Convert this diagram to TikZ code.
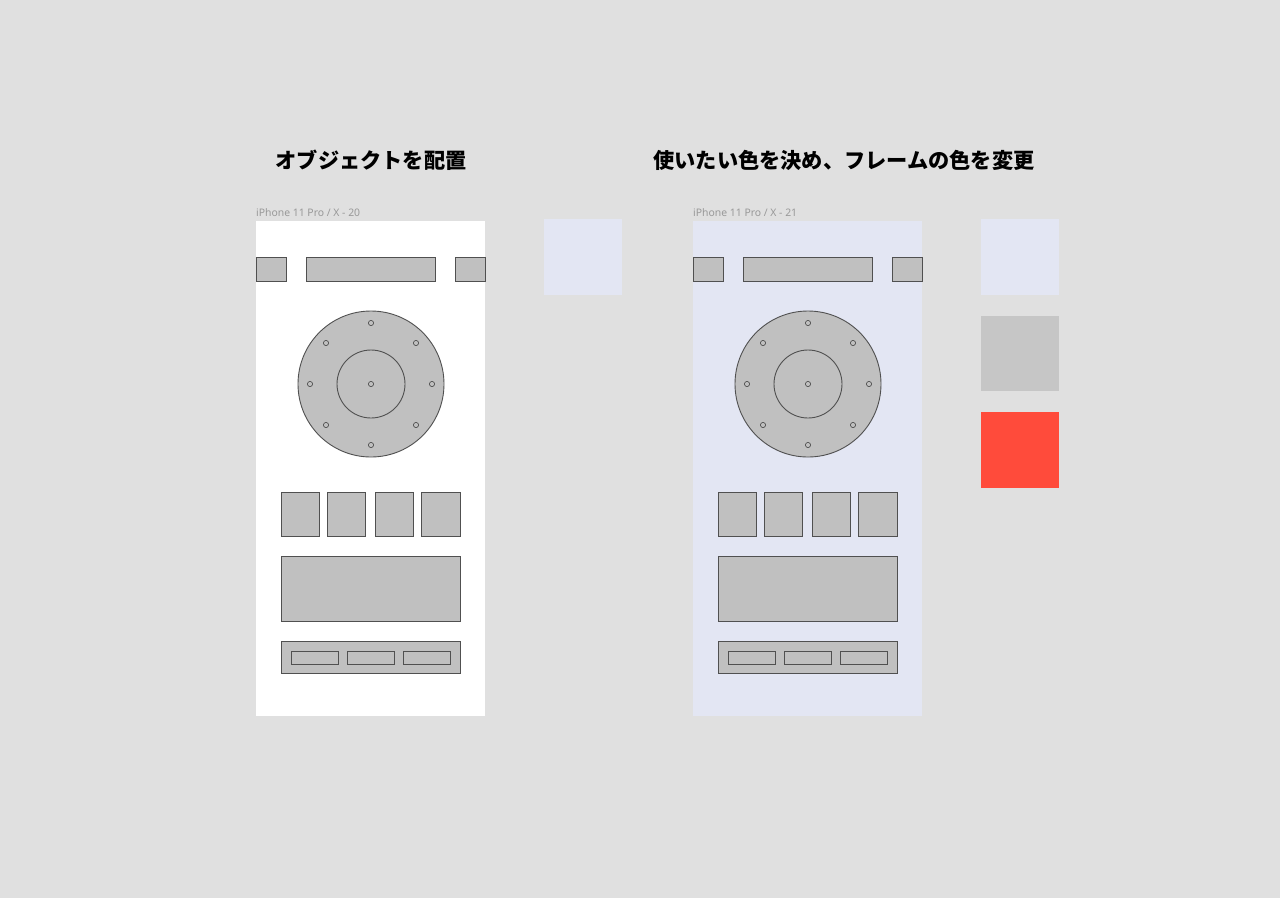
\documentclass[tikz,border=0pt]{standalone}
\usepackage{fontspec}
\newfontfamily\jpfont{Noto Sans CJK JP}
\setsansfont{Noto Sans}
\usetikzlibrary{positioning}

\definecolor{canvas}{HTML}{E0E0E0}
\definecolor{lavender}{HTML}{E3E6F3}
\definecolor{partgray}{HTML}{C0C0C0}
\definecolor{swatchgray}{HTML}{C6C6C6}
\definecolor{accent}{HTML}{FF4B3B}
\definecolor{edge}{HTML}{505050}
\definecolor{captiongray}{HTML}{999999}

\begin{document}
\begin{tikzpicture}[x=1pt, y=-1pt,
	part/.style={fill=partgray, draw=edge, line width=0.9pt},
	dot/.style={draw=edge, line width=0.7pt, fill=partgray},
	title/.style={font=\jpfont\bfseries\fontsize{21.2}{25}\selectfont},
	caption/.style={font=\sffamily\fontsize{10.4}{12}\selectfont, text=captiongray,
		anchor=base west, inner sep=0pt}]

	\fill[canvas] (0,0) rectangle (1280,898);

	\node[title] (objects) at (371,160) {オブジェクトを配置};
	\node[title] (colours) at (844,160) {使いたい色を決め、フレームの色を変更};

	% two phone frames, the second one tinted
	\foreach \dx/\screen/\num in {0/white/20, 437/lavender/21} {
		\begin{scope}[xshift=\dx pt]
			\node[caption] (label\num) at (256,216) {iPhone 11 Pro / X - \num};
			\fill[\screen] (256,221) rectangle (485,716);

			% top bar
			\draw[part] (256,257) rectangle (286,281);
			\draw[part] (306,257) rectangle (435,281);
			\draw[part] (455,257) rectangle (485,281);

			% wheel
			\draw[part] (371,384) circle (73pt);
			\draw[part] (371,384) circle (34pt);
			\foreach \px/\py in {0/0, 0/-61, 0/61, -61/0, 61/0, -45/-41, 45/-41, -45/41, 45/41}
				\draw[dot] (371,384) ++(\px,\py) circle (2.6pt);

			% buttons
			\foreach \x/\w in {281/38, 327/38, 375/38, 421/39}
				\draw[part] (\x,492) rectangle ++(\w,44);
			\draw[part] (281,556) rectangle (460,621);

			% bottom bar
			\draw[part] (281,641) rectangle (460,673);
			\foreach \x in {291, 347, 403}
				\draw[part] (\x,651) rectangle ++(47,13);
		\end{scope}
	}

	% colour swatches
	\fill[lavender] (544,219) rectangle (622,295);
	\fill[lavender] (981,219) rectangle (1059,295);
	\fill[swatchgray] (981,316) rectangle (1059,391);
	\fill[accent] (981,412) rectangle (1059,488);
\end{tikzpicture}
\end{document}
